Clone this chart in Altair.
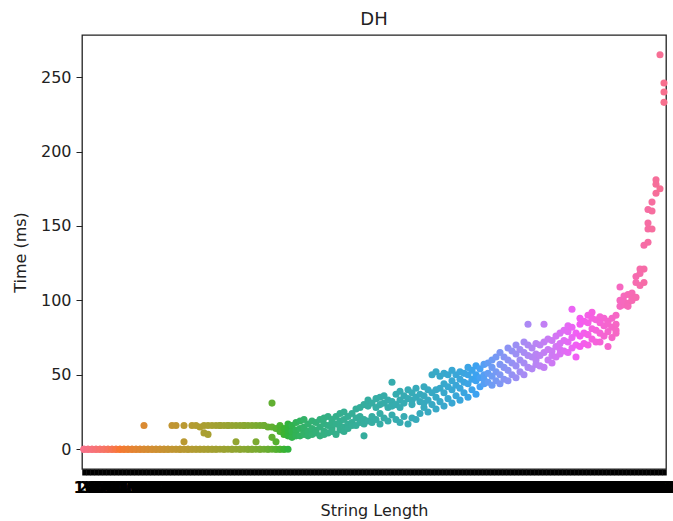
import math
import altair as alt
import pandas as pd

# ---------------- data ----------------
# one inner list = the measured times (ms) of one string length
seg_zero = [[0, 0, 0]] * 15 + [[0, 0, 0, 16]] + [[0, 0, 0]] * 6
seg_low = [
    [0, 0, 16], [0, 0, 16], [0, 0, 0], [0, 0, 5, 16], [0, 0, 0], [0, 0, 16],
    [0, 0, 16], [0, 0, 15], [0, 0, 16, 11], [0, 0, 10, 16], [0, 0, 16], [0, 0, 16],
    [0, 16, 16], [0, 0, 16], [0, 16, 16], [0, 0, 16], [0, 5, 16], [0, 0, 16],
    [0, 16, 16], [0, 0, 16], [0, 0, 16], [0, 5, 16], [0, 0, 16], [0, 16, 16],
    [0, 0, 15], [0, 8, 15, 31], [0, 0, 14, 5], [0, 0, 16, 12], [0, 0, 10, 14],
]
seg_mid1 = [
    [0, 9, 13, 17], [8, 12, 16], [10, 13, 18, 9], [9, 14, 19], [11, 15, 20, 10],
    [12, 17, 9], [10, 14, 19], [13, 18, 11], [9, 15, 20], [12, 17, 21, 10],
    [11, 16, 22], [14, 18, 20, 12], [10, 17, 22], [13, 19, 24, 15],
]
seg_mid2 = [
    [15, 20, 25, 12], [17, 22, 14], [18, 24, 16], [16, 21, 27], [18, 28, 22],
    [9, 20, 30, 17], [19, 29, 33], [22, 31, 18], [20, 28, 34], [17, 30, 35, 24],
    [21, 31, 36], [19, 28, 33], [23, 32, 45, 29], [20, 30, 37], [18, 33, 39, 28],
    [22, 31, 36], [17, 34, 40], [21, 30, 38, 33], [20, 35, 41], [24, 32, 37],
    [28, 36, 42, 31], [25, 33, 40],
]
seg_mid3 = [
    [30, 38, 50], [27, 40, 52, 35], [32, 41, 49], [29, 38, 51, 44], [34, 42, 50],
    [31, 40, 53, 46], [36, 43, 50], [33, 41, 52, 47], [38, 45, 51], [35, 44, 50, 55],
    [40, 47, 53], [37, 46, 56, 50], [42, 48, 54], [44, 50, 57, 47], [45, 51, 58],
    [43, 49, 55, 60], [46, 52, 62], [44, 50, 57, 65], [47, 55, 62], [46, 53, 60, 68],
    [50, 58, 66], [48, 56, 64, 70], [52, 60, 67], [50, 58, 65, 72], [55, 63, 70, 84],
]
seg_high = [
    [54, 62, 68], [57, 64, 71, 60], [56, 63, 70], [55, 65, 72, 84], [60, 67, 74],
    [58, 66, 73, 63], [62, 69, 76], [64, 71, 78, 67], [66, 73, 80], [65, 72, 79, 83],
    [68, 75, 82, 94], [62, 70, 78], [69, 76, 84, 88], [71, 78, 86], [70, 77, 85, 90],
    [74, 81, 88, 92], [72, 80, 87], [72, 78, 85, 89], [76, 83, 88], [69, 79, 86, 84],
    [75, 82, 88], [78, 84, 90, 80],
]
seg_top = [
    [96, 100, 109], [97, 103, 99], [98, 104, 96], [100, 105, 101], [102, 112, 116],
    [110, 118, 121], [112, 121, 137], [139, 148, 152, 161], [148, 160, 166],
    [172, 178, 181], [265, 175], [246, 240, 233],
]
time_ms = seg_zero + seg_low + seg_mid1 + seg_mid2 + seg_mid3 + seg_high + seg_top
string_lengths = [str(10 * (i + 1)) for i in range(len(time_ms))]
y_ticks = [0, 50, 100, 150, 200, 250]

# ---------------- seaborn-like husl palette ----------------
_M = [[3.2406, -1.5372, -0.4986], [-0.9689, 1.8758, 0.0415], [0.0557, -0.2040, 1.0570]]
_REF_U, _REF_V, _KAPPA, _EPS = 0.19784, 0.46834, 903.2963, 0.0088564


def _max_chroma(L, H):
    hr = math.radians(H)
    sinH, cosH = math.sin(hr), math.cos(hr)
    sub1 = (L + 16) ** 3 / 1560896.0
    sub2 = sub1 if sub1 > _EPS else L / _KAPPA
    res = float("inf")
    for m1, m2, m3 in _M:
        top = (0.99915 * m1 + 1.05122 * m2 + 1.14460 * m3) * sub2
        rb = 0.86330 * m3 - 0.17266 * m2
        lb = 0.12949 * m3 - 0.38848 * m1
        bottom = (rb * sinH + lb * cosH) * sub2
        for t in (0.0, 1.0):
            C = L * (top - 1.05122 * t) / (bottom + 0.17266 * sinH * t)
            if 0 < C < res:
                res = C
    return res


def _husl_hex(h, s, l):
    C = _max_chroma(l, h) / 100.0 * s
    hr = math.radians(h)
    U, V = math.cos(hr) * C, math.sin(hr) * C
    varY = ((l + 16) / 116.0) ** 3 if l > 8 else l / _KAPPA
    varU = U / (13 * l) + _REF_U
    varV = V / (13 * l) + _REF_V
    Y = varY
    X = -(9 * Y * varU) / ((varU - 4) * varV - varU * varV)
    Z = (9 * Y - 15 * varV * Y - varV * X) / (3 * varV)
    out = []
    for r in _M:
        c = r[0] * X + r[1] * Y + r[2] * Z
        c = 12.92 * c if c <= 0.0031308 else 1.055 * c ** (1 / 2.4) - 0.055
        out.append(min(max(c, 0.0), 1.0))
    return "#%02x%02x%02x" % tuple(int(round(v * 255)) for v in out)


n = len(string_lengths)
palette = [_husl_hex(((k / n + 0.01) % 1) * 359, 0.9 * 99, 0.65 * 99) for k in range(n)]

rows = []
for lab, vals in zip(string_lengths, time_ms):
    for v in vals:
        rows.append({"String Length": lab, "Time (ms)": v})
df = pd.DataFrame(rows)

FONT = "DejaVu Sans"

chart = (
    alt.Chart(df)
    .mark_circle(size=50, opacity=1)
    .encode(
        x=alt.X(
            "String Length:O",
            sort=string_lengths,
            scale=alt.Scale(type="point", padding=0.5, domain=string_lengths),
            axis=alt.Axis(
                title="String Length",
                labelAngle=0,
                labelOverlap=False,
                labelFontSize=16,
                labelFontWeight="bold",
                labelFont=FONT,
                labelColor="#000",
                labelPadding=4,
                tickColor="#000",
                tickWidth=4.5,
                tickSize=6,
                domain=False,
                titleFont=FONT,
                titleFontSize=16,
                titleFontWeight="normal",
                titleColor="#222",
                titlePadding=7,
            ),
        ),
        y=alt.Y(
            "Time (ms):Q",
            scale=alt.Scale(domain=[-13.25, 278.25], nice=False, zero=False),
            axis=alt.Axis(
                values=y_ticks,
                grid=False,
                domain=False,
                tickColor="#222",
                tickSize=6,
                labelFontSize=16,
                labelFont=FONT,
                labelColor="#222",
                labelPadding=5,
                titleFont=FONT,
                titleFontSize=16,
                titleFontWeight="normal",
                titleColor="#222",
                titlePadding=12,
            ),
        ),
        color=alt.Color(
            "String Length:N",
            scale=alt.Scale(domain=string_lengths, range=palette),
            legend=None,
        ),
    )
    .properties(
        width=584,
        height=434,
        title=alt.TitleParams("DH", fontSize=18, fontWeight="normal", font=FONT, color="#222", offset=6),
        autosize=alt.AutoSizeParams(type="none"),
        padding={"left": 82, "top": 35, "right": 7, "bottom": 52},
    )
    .configure(background="white")
    .configure_view(stroke="#222", strokeWidth=1.3)
)

chart.save("out.html", embed_options={"renderer": "svg", "actions": False})
